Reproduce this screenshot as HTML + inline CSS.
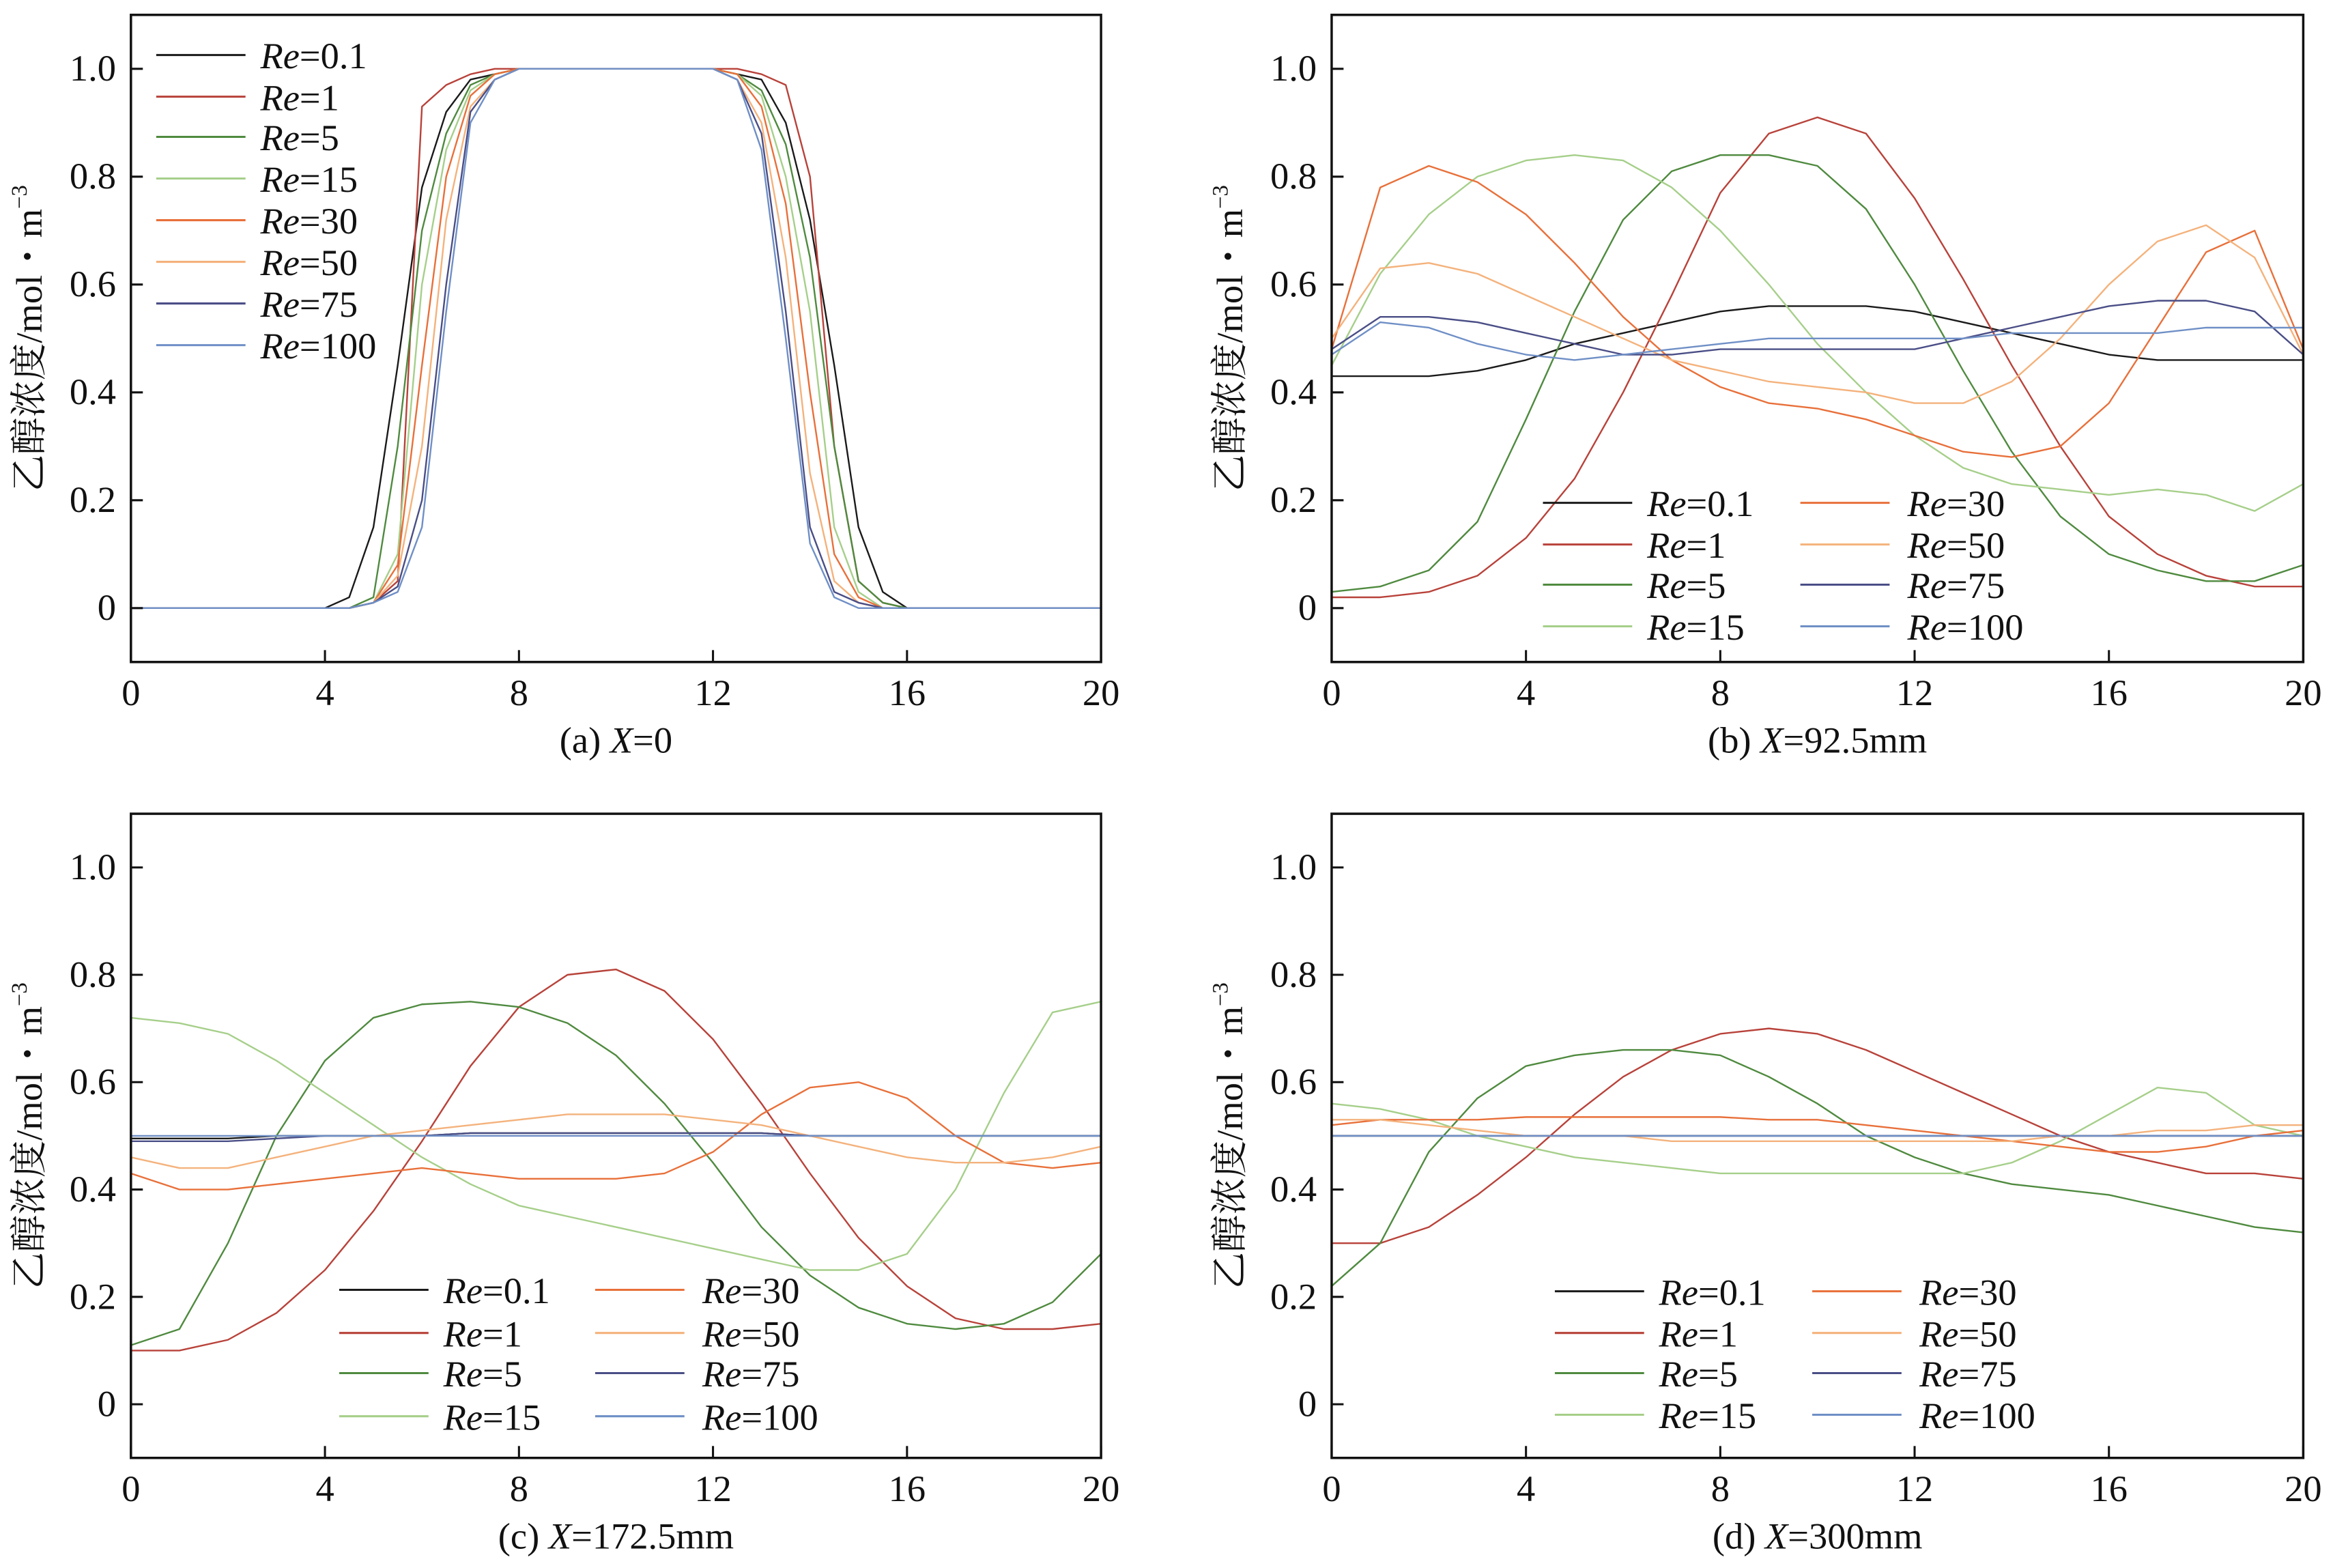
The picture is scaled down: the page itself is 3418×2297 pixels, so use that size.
<!DOCTYPE html>
<html><head><meta charset="utf-8">
<style>
html,body{margin:0;padding:0;background:#fff;}
svg{display:block;font-family:"Liberation Serif","Noto Serif CJK SC",serif;}
svg text{font-family:"Liberation Serif","Noto Serif CJK SC",serif;fill:#111;}
</style></head>
<body>
<svg id="chart" width="3418" height="2297" viewBox="0 0 1568 1054" preserveAspectRatio="none" xmlns="http://www.w3.org/2000/svg" font-family="Liberation Serif, Noto Serif CJK SC, serif"></svg>
<script>
const seriesNames = ["0.1","1","5","15","30","50","75","100"];
const seriesColors = ["#1a1a1a","#b8423a","#4f8a3f","#a6cf8a","#e8703a","#f4b27c","#4a4e86","#6f8fc6"];
const xTicks = [0,4,8,12,16,20];
const yTicks = [0,0.2,0.4,0.6,0.8,1.0];
const yTickLabels = ["0","0.2","0.4","0.6","0.8","1.0"];
const xsA = [0,4,4.5,5,5.5,6,6.5,7,7.5,8,12,12.5,13,13.5,14,14.5,15,15.5,16,20];
const xsStd = [0,1,2,3,4,5,6,7,8,9,10,11,12,13,14,15,16,17,18,19,20];
const dataA = [
 [0,0,0.02,0.15,0.45,0.78,0.92,0.98,0.99,1,1,0.99,0.98,0.9,0.72,0.45,0.15,0.03,0,0],
 [0,0,0,0.01,0.05,0.93,0.97,0.99,1,1,1,1,0.99,0.97,0.8,0.3,0.05,0.01,0,0],
 [0,0,0,0.02,0.3,0.7,0.88,0.97,0.99,1,1,0.99,0.96,0.86,0.65,0.3,0.05,0.01,0,0],
 [0,0,0,0.01,0.1,0.6,0.85,0.96,0.99,1,1,0.99,0.95,0.8,0.55,0.15,0.03,0,0,0],
 [0,0,0,0.01,0.08,0.45,0.8,0.95,0.99,1,1,0.99,0.93,0.75,0.4,0.1,0.02,0,0,0],
 [0,0,0,0.01,0.06,0.3,0.72,0.93,0.98,1,1,0.98,0.9,0.65,0.25,0.05,0.01,0,0,0],
 [0,0,0,0.01,0.04,0.2,0.6,0.92,0.98,1,1,0.98,0.88,0.55,0.15,0.03,0.01,0,0,0],
 [0,0,0,0.01,0.03,0.15,0.55,0.9,0.98,1,1,0.98,0.85,0.5,0.12,0.02,0,0,0,0]
];
const dataB = [
 [0.43,0.43,0.43,0.44,0.46,0.49,0.51,0.53,0.55,0.56,0.56,0.56,0.55,0.53,0.51,0.49,0.47,0.46,0.46,0.46,0.46],
 [0.02,0.02,0.03,0.06,0.13,0.24,0.4,0.58,0.77,0.88,0.91,0.88,0.76,0.61,0.45,0.3,0.17,0.1,0.06,0.04,0.04],
 [0.03,0.04,0.07,0.16,0.35,0.55,0.72,0.81,0.84,0.84,0.82,0.74,0.6,0.44,0.29,0.17,0.1,0.07,0.05,0.05,0.08],
 [0.45,0.62,0.73,0.8,0.83,0.84,0.83,0.78,0.7,0.6,0.49,0.4,0.32,0.26,0.23,0.22,0.21,0.22,0.21,0.18,0.23],
 [0.48,0.78,0.82,0.79,0.73,0.64,0.54,0.46,0.41,0.38,0.37,0.35,0.32,0.29,0.28,0.3,0.38,0.52,0.66,0.7,0.48],
 [0.5,0.63,0.64,0.62,0.58,0.54,0.5,0.46,0.44,0.42,0.41,0.4,0.38,0.38,0.42,0.5,0.6,0.68,0.71,0.65,0.47],
 [0.48,0.54,0.54,0.53,0.51,0.49,0.47,0.47,0.48,0.48,0.48,0.48,0.48,0.5,0.52,0.54,0.56,0.57,0.57,0.55,0.47],
 [0.47,0.53,0.52,0.49,0.47,0.46,0.47,0.48,0.49,0.5,0.5,0.5,0.5,0.5,0.51,0.51,0.51,0.51,0.52,0.52,0.52]
];
const dataC = [
 [0.495,0.495,0.495,0.5,0.5,0.5,0.5,0.505,0.505,0.505,0.505,0.505,0.505,0.505,0.5,0.5,0.5,0.5,0.5,0.5,0.5],
 [0.1,0.1,0.12,0.17,0.25,0.36,0.49,0.63,0.74,0.8,0.81,0.77,0.68,0.56,0.43,0.31,0.22,0.16,0.14,0.14,0.15],
 [0.11,0.14,0.3,0.5,0.64,0.72,0.745,0.75,0.74,0.71,0.65,0.56,0.45,0.33,0.24,0.18,0.15,0.14,0.15,0.19,0.28],
 [0.72,0.71,0.69,0.64,0.58,0.52,0.46,0.41,0.37,0.35,0.33,0.31,0.29,0.27,0.25,0.25,0.28,0.4,0.58,0.73,0.75],
 [0.43,0.4,0.4,0.41,0.42,0.43,0.44,0.43,0.42,0.42,0.42,0.43,0.47,0.54,0.59,0.6,0.57,0.5,0.45,0.44,0.45],
 [0.46,0.44,0.44,0.46,0.48,0.5,0.51,0.52,0.53,0.54,0.54,0.54,0.53,0.52,0.5,0.48,0.46,0.45,0.45,0.46,0.48],
 [0.49,0.49,0.49,0.495,0.5,0.5,0.5,0.505,0.505,0.505,0.505,0.505,0.505,0.505,0.5,0.5,0.5,0.5,0.5,0.5,0.5],
 [0.5,0.5,0.5,0.5,0.5,0.5,0.5,0.5,0.5,0.5,0.5,0.5,0.5,0.5,0.5,0.5,0.5,0.5,0.5,0.5,0.5]
];
const dataD = [
 [0.5,0.5,0.5,0.5,0.5,0.5,0.5,0.5,0.5,0.5,0.5,0.5,0.5,0.5,0.5,0.5,0.5,0.5,0.5,0.5,0.5],
 [0.3,0.3,0.33,0.39,0.46,0.54,0.61,0.66,0.69,0.7,0.69,0.66,0.62,0.58,0.54,0.5,0.47,0.45,0.43,0.43,0.42],
 [0.22,0.3,0.47,0.57,0.63,0.65,0.66,0.66,0.65,0.61,0.56,0.5,0.46,0.43,0.41,0.4,0.39,0.37,0.35,0.33,0.32],
 [0.56,0.55,0.53,0.5,0.48,0.46,0.45,0.44,0.43,0.43,0.43,0.43,0.43,0.43,0.45,0.49,0.54,0.59,0.58,0.52,0.5],
 [0.52,0.53,0.53,0.53,0.535,0.535,0.535,0.535,0.535,0.53,0.53,0.52,0.51,0.5,0.49,0.48,0.47,0.47,0.48,0.5,0.51],
 [0.53,0.53,0.52,0.51,0.5,0.5,0.5,0.49,0.49,0.49,0.49,0.49,0.49,0.49,0.49,0.5,0.5,0.51,0.51,0.52,0.52],
 [0.5,0.5,0.5,0.5,0.5,0.5,0.5,0.5,0.5,0.5,0.5,0.5,0.5,0.5,0.5,0.5,0.5,0.5,0.5,0.5,0.5],
 [0.5,0.5,0.5,0.5,0.5,0.5,0.5,0.5,0.5,0.5,0.5,0.5,0.5,0.5,0.5,0.5,0.5,0.5,0.5,0.5,0.5]
];

const NS="http://www.w3.org/2000/svg";
const svg=document.getElementById('chart');
function mk(tag,attrs,parent){const e=document.createElementNS(NS,tag);for(const k in attrs)e.setAttribute(k,attrs[k]);(parent||svg).appendChild(e);return e;}
const FF='Liberation Serif, Noto Serif CJK SC, serif';

const panels=[
 {id:'a',x0:88,x1:740,y0:10,y1:445,xs:xsA,data:dataA,cap:['(a) ','X','=0'],
  leg:{cols:1,lx:[105],tx:[175],rows:[37,65,92,120,148,176,204,232]}},
 {id:'b',x0:895,x1:1548,y0:10,y1:445,xs:xsStd,data:dataB,cap:['(b) ','X','=92.5mm'],
  leg:{cols:2,lx:[1037,1210],tx:[1107,1282],rows:[338,366,393,421]}},
 {id:'c',x0:88,x1:740,y0:547,y1:980,xs:xsStd,data:dataC,cap:['(c) ','X','=172.5mm'],
  leg:{cols:2,lx:[228,400],tx:[298,472],rows:[867,896,923,952]}},
 {id:'d',x0:895,x1:1548,y0:547,y1:980,xs:xsStd,data:dataD,cap:['(d) ','X','=300mm'],
  leg:{cols:2,lx:[1045,1218],tx:[1115,1290],rows:[868,896,923,951]}}
];

panels.forEach(p=>{
  const g=mk('g',{'font-family':FF});
  
  
  const sx=v=>p.x0+(v-0)/(20-0)*(p.x1-p.x0);
  const sy=v=>p.y1-(v-(-0.1))/(1.1-(-0.1))*(p.y1-p.y0);
  p.data.forEach((vals,i)=>{
    const pts=vals.map((v,j)=>sx(p.xs[j]).toFixed(2)+','+sy(v).toFixed(2)).join(' ');
    const pl=mk('polyline',{points:pts,fill:'none',stroke:seriesColors[i],'stroke-width':1.1,'stroke-linejoin':'round'},g);
    
    
  });
  const fr=mk('rect',{x:p.x0,y:p.y0,width:p.x1-p.x0,height:p.y1-p.y0,fill:'none',stroke:'#111','stroke-width':1.6},g);
  
  
  yTicks.forEach((t,i)=>{
    const y=sy(t);
    const tk=mk('line',{x1:p.x0,x2:p.x0+8,y1:y,y2:y,stroke:'#111','stroke-width':1.4},g);
    
    
    const tx=mk('text',{x:p.x0-10,y:y+8,'text-anchor':'end','font-size':25,'font-family':FF},g);
    tx.textContent=yTickLabels[i];
    
    
  });
  xTicks.forEach(t=>{
    const x=sx(t);
    const tk=mk('line',{x1:x,x2:x,y1:p.y1,y2:p.y1-8,stroke:'#111','stroke-width':1.4},g);
    
    
    const tx=mk('text',{x:x,y:p.y1+29,'text-anchor':'middle','font-size':25,'font-family':FF},g);
    tx.textContent=String(t);
    
    
  });
  const cy=(p.y0+p.y1)/2;
  const yt=mk('text',{x:p.x0-60,y:cy,'text-anchor':'middle','font-size':25,'font-family':FF,transform:`rotate(-90 ${p.x0-60} ${cy})`},g);
  yt.innerHTML='乙醇浓度/mol・m<tspan dy="-10" font-size="15">−3</tspan>';
  
  
  const cp=mk('text',{x:(p.x0+p.x1)/2,y:p.y1+61,'text-anchor':'middle','font-size':25,'font-family':FF},g);
  cp.innerHTML=p.cap[0]+'<tspan font-style="italic">'+p.cap[1]+'</tspan>'+p.cap[2];
  
  
  const L=p.leg;
  const lg=mk('g',{},g);
  
  
  seriesNames.forEach((n,i)=>{
    const col=L.cols===1?0:Math.floor(i/4);
    const row=L.cols===1?i:i%4;
    const y=L.rows[row];
    const ln=mk('line',{x1:L.lx[col],x2:L.lx[col]+60,y1:y,y2:y,stroke:seriesColors[i],'stroke-width':1.4},lg);
    
    
    const t=mk('text',{x:L.tx[col],y:y+9,'font-size':25,'font-family':FF},lg);
    t.innerHTML='<tspan font-style="italic">Re</tspan>='+n;
    
    
  });
});
</script>
</body></html>
